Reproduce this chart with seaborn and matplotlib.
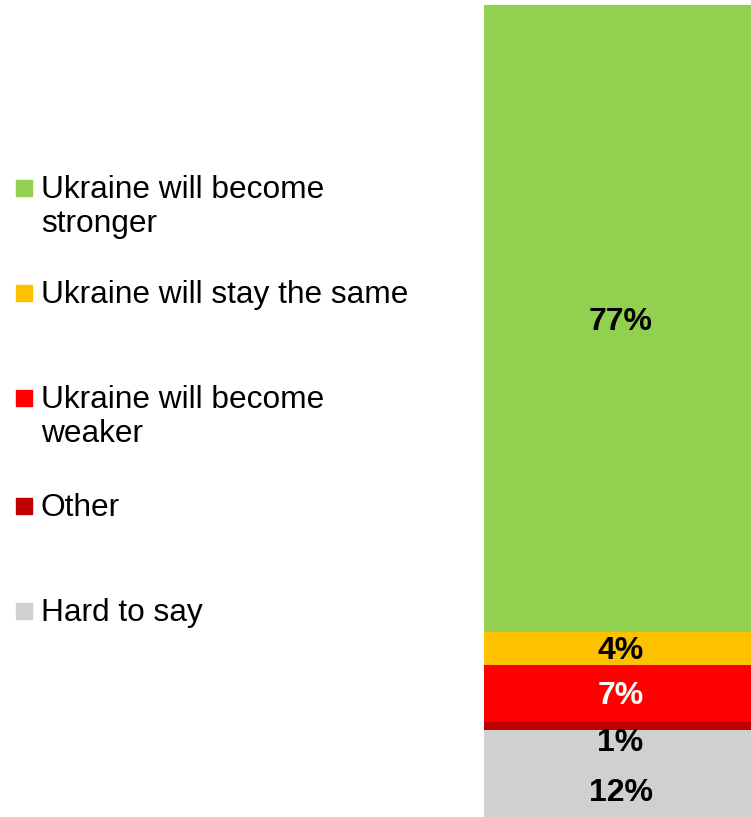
#imports
import pandas as pd
import numpy as np
import seaborn as sns
import matplotlib.pyplot as plt
from matplotlib.patches import Rectangle

#data, top of the bar first
categories = ['Ukraine will become\nstronger', 'Ukraine will stay the same',
              'Ukraine will become\nweaker', 'Other', 'Hard to say']
values = [77, 4, 7, 1, 12]
colors = ['#92D050', '#FFC000', '#FF0000', '#C00000', '#D0D1CE']
label_colors = ['black', 'black', 'white', 'black', 'black']

sns.set_style('white')
plt.rcParams['font.family'] = ['Liberation Sans', 'DejaVu Sans']

W, H = 751, 817
fig = plt.figure(figsize=(W / 100, H / 100), dpi=100)
# bar axes (bar runs a little past the bottom edge, like the original)
ax = fig.add_axes([484 / W, -10.5 / H, (W - 484) / W, (817 - 5 + 10.5) / H])

#stacked bar: bottom segment is the last category
df = pd.DataFrame({'cat': categories, 'val': values, 'color': colors})
stack = df.iloc[::-1].reset_index(drop=True)
stack['top'] = stack['val'].cumsum()
stack['bottom'] = stack['top'] - stack['val']

# draw cumulative bars tallest first so each shorter one covers the one behind
for i in range(len(stack) - 1, -1, -1):
    row = stack.iloc[i]
    sns.barplot(x=[''], y=[row['top']], color=row['color'], width=1,
                saturation=1, linewidth=0, ax=ax)

ax.set_ylim(0, stack['top'].iloc[-1])
ax.set_xlim(-0.5, 0.5)
ax.axis('off')

#value labels (small ones pushed down into the grey part)
shift_px = {'Other': 14, 'Hard to say': 11}
for _, row in stack.iterrows():
    i = categories.index(row['cat'])
    mid = (row['bottom'] + row['top']) / 2
    dy = -(shift_px.get(row['cat'], 0) + 3) * 0.72
    ax.annotate(f"{row['val']}%", (0, mid), xytext=(2.2, dy), textcoords='offset points',
                ha='center', va='center', fontsize=23, fontweight='bold',
                color=label_colors[i])

#legend drawn by hand to keep the spacing of the original
square_y = [188, 293, 398, 506, 611]
for cat, col, cy in zip(categories, colors, square_y):
    fig.patches.append(Rectangle((16 / W, 1 - (cy + 8) / H), 16 / W, 16 / H,
                                 transform=fig.transFigure, color=col))
    for k, line in enumerate(cat.split('\n')):
        fig.text(41 / W, 1 - (cy + 10 + 34 * k) / H, line, ha='left',
                 va='baseline', fontsize=22.8, color='black')

plt.savefig('out.png', dpi=100)
